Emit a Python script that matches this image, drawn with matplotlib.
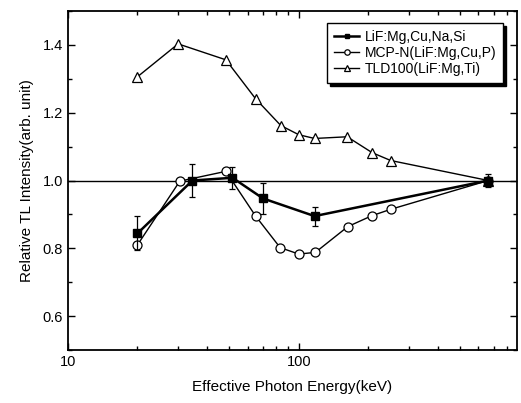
import matplotlib.pyplot as plt
from matplotlib.ticker import MultipleLocator, LogLocator, NullFormatter, FixedLocator

plt.rcParams['font.family'] = ['Liberation Sans', 'DejaVu Sans']

# LiF:Mg,Cu,Na,Si
e_na = [20, 34.6, 51.6, 70, 117, 662]
v_na = [0.844, 1.0, 1.008, 0.947, 0.895, 1.0]
err_na = [0.05, 0.048, 0.032, 0.045, 0.028, 0.018]

# MCP-N(LiF:Mg,Cu,P)
e_mcp = [20, 30.5, 48.3, 65, 83, 100, 118, 163, 207, 250, 662]
v_mcp = [0.810, 0.998, 1.027, 0.895, 0.802, 0.783, 0.788, 0.864, 0.896, 0.915, 1.0]

# TLD100(LiF:Mg,Ti)
e_tld = [20, 30, 48.3, 65, 83.6, 100, 117, 162, 208, 250, 662]
v_tld = [1.306, 1.403, 1.356, 1.241, 1.162, 1.135, 1.124, 1.129, 1.082, 1.059, 1.0]

fig = plt.figure(figsize=(5.21, 4.03), dpi=100)
ax = fig.add_axes([0.1305, 0.1315, 0.8615, 0.8412])

ax.axhline(1.0, color='black', lw=1.0, zorder=1)

ax.errorbar(e_na, v_na, yerr=err_na, fmt='none', ecolor='black',
            capsize=2.5, elinewidth=0.9, capthick=0.9, zorder=3)
h1, = ax.plot(e_na, v_na, color='black', lw=1.8, marker='s', ms=6,
              mfc='black', mec='black', label='LiF:Mg,Cu,Na,Si', zorder=3)
h2, = ax.plot(e_mcp, v_mcp, color='black', lw=1.0, marker='o', ms=6.5,
              mfc='white', mec='black', mew=0.9, label='MCP-N(LiF:Mg,Cu,P)', zorder=2)
h3, = ax.plot(e_tld, v_tld, color='black', lw=1.0, marker='^', ms=7.5,
              mfc='white', mec='black', mew=0.9, label='TLD100(LiF:Mg,Ti)', zorder=2)

ax.set_xscale('log')
ax.set_xlim(10, 880)
ax.set_ylim(0.5, 1.5)
ax.xaxis.set_major_locator(FixedLocator([10, 100]))
ax.xaxis.set_major_formatter(plt.FixedFormatter(['10', '100']))
ax.xaxis.set_minor_locator(LogLocator(base=10, subs=range(2, 10)))
ax.xaxis.set_minor_formatter(NullFormatter())
ax.yaxis.set_major_locator(FixedLocator([0.6, 0.8, 1.0, 1.2, 1.4]))
ax.yaxis.set_minor_locator(MultipleLocator(0.1))
ax.tick_params(which='both', direction='in', top=True, right=True,
               labelsize=10.5, width=1.0)
ax.tick_params(which='major', length=5)
ax.tick_params(which='minor', length=3)
for s in ax.spines.values():
    s.set_linewidth(1.3)

ax.set_xlabel('Effective Photon Energy(keV)', fontsize=11, labelpad=8)
ax.set_ylabel('Relative TL Intensity(arb. unit)', fontsize=11, labelpad=6)

leg = ax.legend(handles=[h1, h2, h3], loc='upper right', fontsize=10,
                frameon=True, fancybox=False, shadow={'color': 'black', 'alpha': 1.0},
                edgecolor='black', handlelength=1.8, markerscale=0.6,
                borderpad=0.5, labelspacing=0.15, handletextpad=0.4,
                bbox_to_anchor=(0.985, 0.985))
leg.get_frame().set_linewidth(1.0)

fig.savefig('out.png', dpi=100)
